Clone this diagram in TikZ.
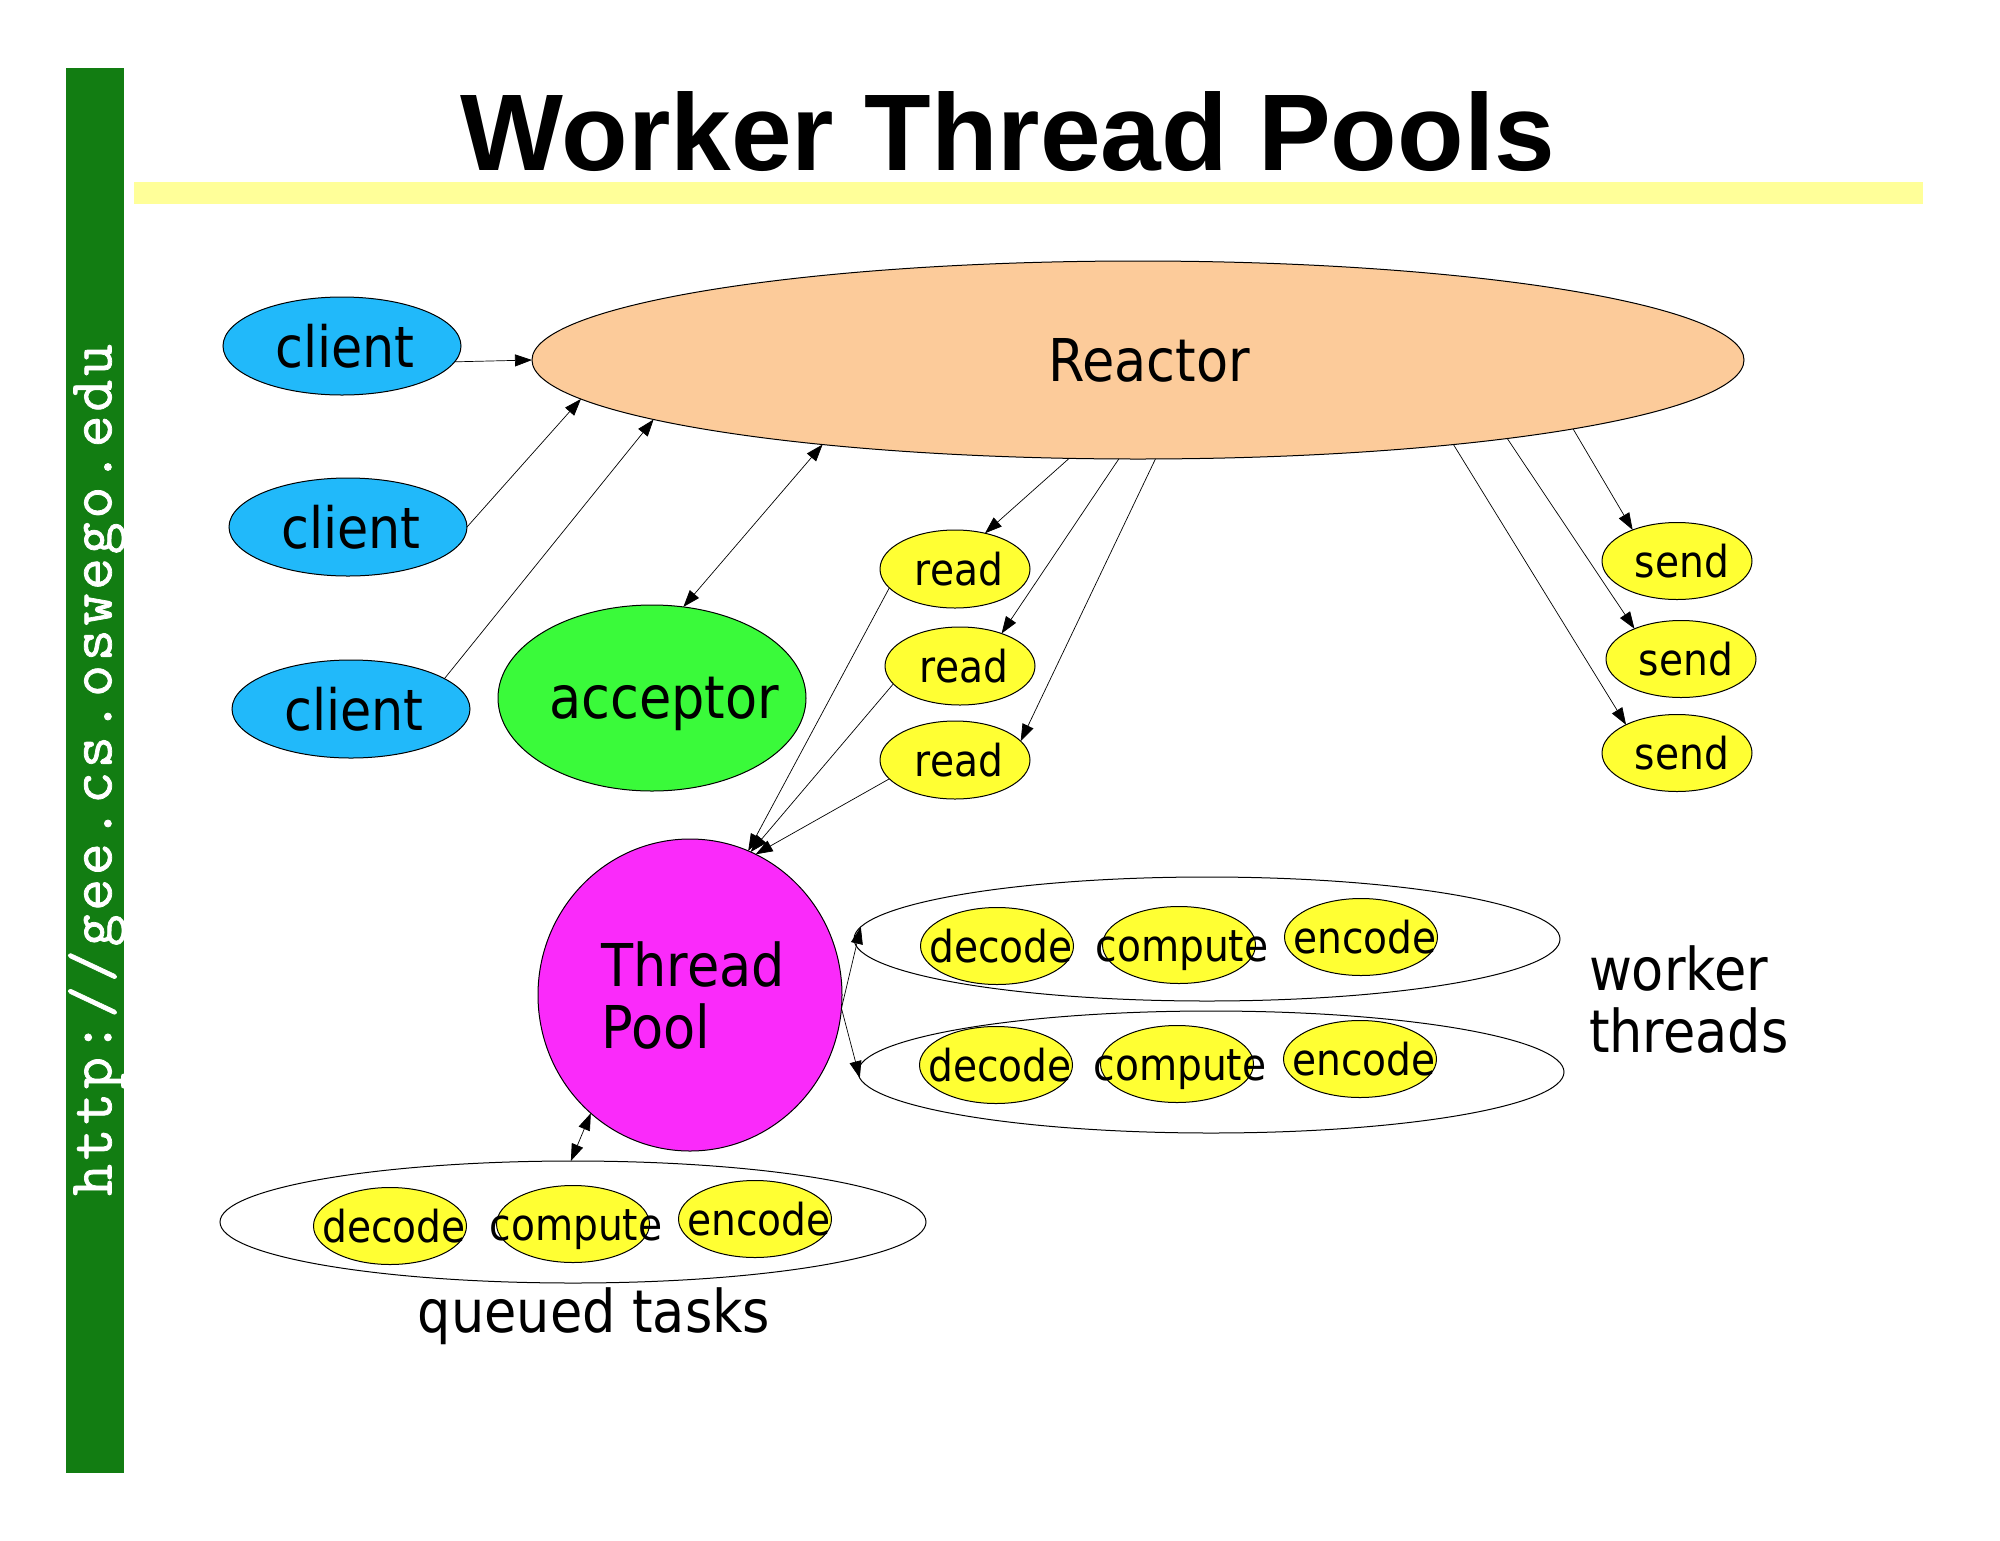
\documentclass[tikz,border=0pt]{standalone}
\usepackage{fontspec}
\usetikzlibrary{shapes.geometric,arrows.meta}
\newfontfamily\diagfont{DejaVu Sans}[FakeStretch=0.89]
\newfontfamily\titlefamily{Liberation Sans}
\newfontfamily\urlfamily{Latin Modern Mono}[FakeBold=1.2,LetterSpace=6]
\definecolor{barGreen}{RGB}{18,125,18}
\definecolor{barYellow}{RGB}{255,255,153}
\definecolor{clientBlue}{RGB}{33,185,250}
\definecolor{reactorPeach}{RGB}{252,203,154}
\definecolor{acceptGreen}{RGB}{58,250,58}
\definecolor{poolMagenta}{RGB}{250,42,250}
\definecolor{taskYellow}{RGB}{255,255,51}
\newcommand\bigtext{\diagfont\fontsize{59}{61}\selectfont}
\newcommand\clienttext{\diagfont\fontsize{57}{61}\selectfont}
\newcommand\smalltext{\diagfont\fontsize{44}{48}\selectfont}
\begin{document}
\begin{tikzpicture}[x=1pt,y=-1pt,
  every node/.style={inner sep=0pt,outer sep=0pt},
  bubble/.style={ellipse,draw=black,line width=1pt},
  clientnode/.style={bubble,fill=clientBlue,minimum width=238pt,minimum height=98pt,font=\clienttext,text height=42pt,text depth=0pt},
  tasknode/.style={bubble,fill=taskYellow,minimum width=153pt,minimum height=77pt,font=\smalltext,text height=33pt,text depth=0pt},
  groupnode/.style={bubble,fill=none,minimum width=706pt,minimum height=122pt},
  conn/.style={line width=0.7pt,-{Triangle[length=17pt,width=12pt]}},
  both/.style={line width=0.7pt,{Triangle[length=17pt,width=12pt]}-{Triangle[length=17pt,width=12pt]}}]
\useasboundingbox (0,0) rectangle (2000,1540);
\fill[white] (0,0) rectangle (2000,1540);
% side bar and title rule
\fill[barGreen] (66,68) rectangle (124,1473);
\fill[barYellow] (134,182) rectangle (1923,204);
\node[rotate=90,text=white,font=\urlfamily\fontsize{62}{62}\selectfont] (url) at (97,770) {http://gee.cs.oswego.edu};
\node[anchor=base,font=\titlefamily\bfseries\fontsize{109}{110}\selectfont] (title) at (1008,170) {Worker Thread Pools};
% reactor
\node[bubble,fill=reactorPeach,minimum width=1212pt,minimum height=198pt,font=\bigtext] (reactor) at (1138,360) {\makebox[0pt]{\hspace{22pt}Reactor}};
% clients
\node[clientnode] (c1) at (342,346) {\makebox[0pt]{\hspace{6pt}client}};
\node[clientnode] (c2) at (348,527) {\makebox[0pt]{\hspace{6pt}client}};
\node[clientnode] (c3) at (351,709) {\makebox[0pt]{\hspace{6pt}client}};
% acceptor
\node[bubble,fill=acceptGreen,minimum width=308pt,minimum height=186pt,font=\bigtext,text height=44pt,text depth=4pt] (acc) at (652,698) {\makebox[0pt]{\hspace{24pt}acceptor}};
% reads
\node[tasknode,minimum width=150pt,minimum height=78pt] (r1) at (955,569) {\makebox[0pt]{\hspace{8pt}read}};
\node[tasknode,minimum width=150pt,minimum height=78pt] (r2) at (960,666) {\makebox[0pt]{\hspace{8pt}read}};
\node[tasknode,minimum width=150pt,minimum height=78pt] (r3) at (955,760) {\makebox[0pt]{\hspace{8pt}read}};
% sends
\node[tasknode,minimum width=150pt] (s1) at (1677,561) {\makebox[0pt]{\hspace{10pt}send}};
\node[tasknode,minimum width=150pt] (s2) at (1681,659) {\makebox[0pt]{\hspace{10pt}send}};
\node[tasknode,minimum width=150pt] (s3) at (1677,753) {\makebox[0pt]{\hspace{10pt}send}};
% thread pool
\node[bubble,fill=poolMagenta,minimum width=304pt,minimum height=312pt,font=\bigtext,align=left] (tp) at (690,995) {\hspace*{6pt}Thread\\[1pt]\hspace*{6pt}Pool};
% worker thread groups
\node[groupnode,minimum height=124pt] (w1) at (1207,939) {};
\node[tasknode] (w1a) at (997,946) {\makebox[0pt]{\hspace{8pt}decode}};
\node[tasknode] (w1b) at (1179,945) {\makebox[0pt]{\hspace{6pt}compute}};
\node[tasknode] (w1c) at (1361,937) {\makebox[0pt]{\hspace{8pt}encode}};
\node[groupnode] (w2) at (1211,1072) {};
\node[tasknode] (w2a) at (996,1065) {\makebox[0pt]{\hspace{8pt}decode}};
\node[tasknode] (w2b) at (1177,1064) {\makebox[0pt]{\hspace{6pt}compute}};
\node[tasknode] (w2c) at (1360,1059) {\makebox[0pt]{\hspace{8pt}encode}};
\node[anchor=north west,align=left,font=\bigtext] (wlabel) at (1589,946) {worker\\[1pt]threads};
% queued tasks
\node[groupnode] (q) at (573,1222) {};
\node[tasknode] (qa) at (390,1226) {\makebox[0pt]{\hspace{8pt}decode}};
\node[tasknode] (qb) at (573,1224) {\makebox[0pt]{\hspace{6pt}compute}};
\node[tasknode] (qc) at (755,1219) {\makebox[0pt]{\hspace{8pt}encode}};
\node[anchor=base,font=\bigtext] (qlabel) at (594,1332) {queued tasks};
% connectors
\draw[conn] (c1.-8) -- (reactor.180);
\draw[conn] (c2.east) -- (reactor.184);
\draw[conn] (c3.18) -- (reactor.187);
\draw[both] (reactor.195) -- (acc.71);
\draw[conn] (reactor.235) -- (r1.50);
\draw[conn] (reactor.259) -- (r2.38);
\draw[conn] (reactor.280) -- (r3.16);
\draw[conn] (reactor.-9) -- (s1.145);
\draw[conn] (reactor.-12) -- (s2.147);
\draw[conn] (reactor.-15) -- (s3.151);
\draw[conn] (r1.196) -- (tp.68);
\draw[conn] (r2.195) -- (tp.67);
\draw[conn] (r3.196) -- (tp.65);
\draw[conn] (tp.-5) -- (w1.178);
\draw[conn] (tp.-5) -- (w2.181);
\draw[both] (tp.230) -- (q.92);
\end{tikzpicture}
\end{document}
